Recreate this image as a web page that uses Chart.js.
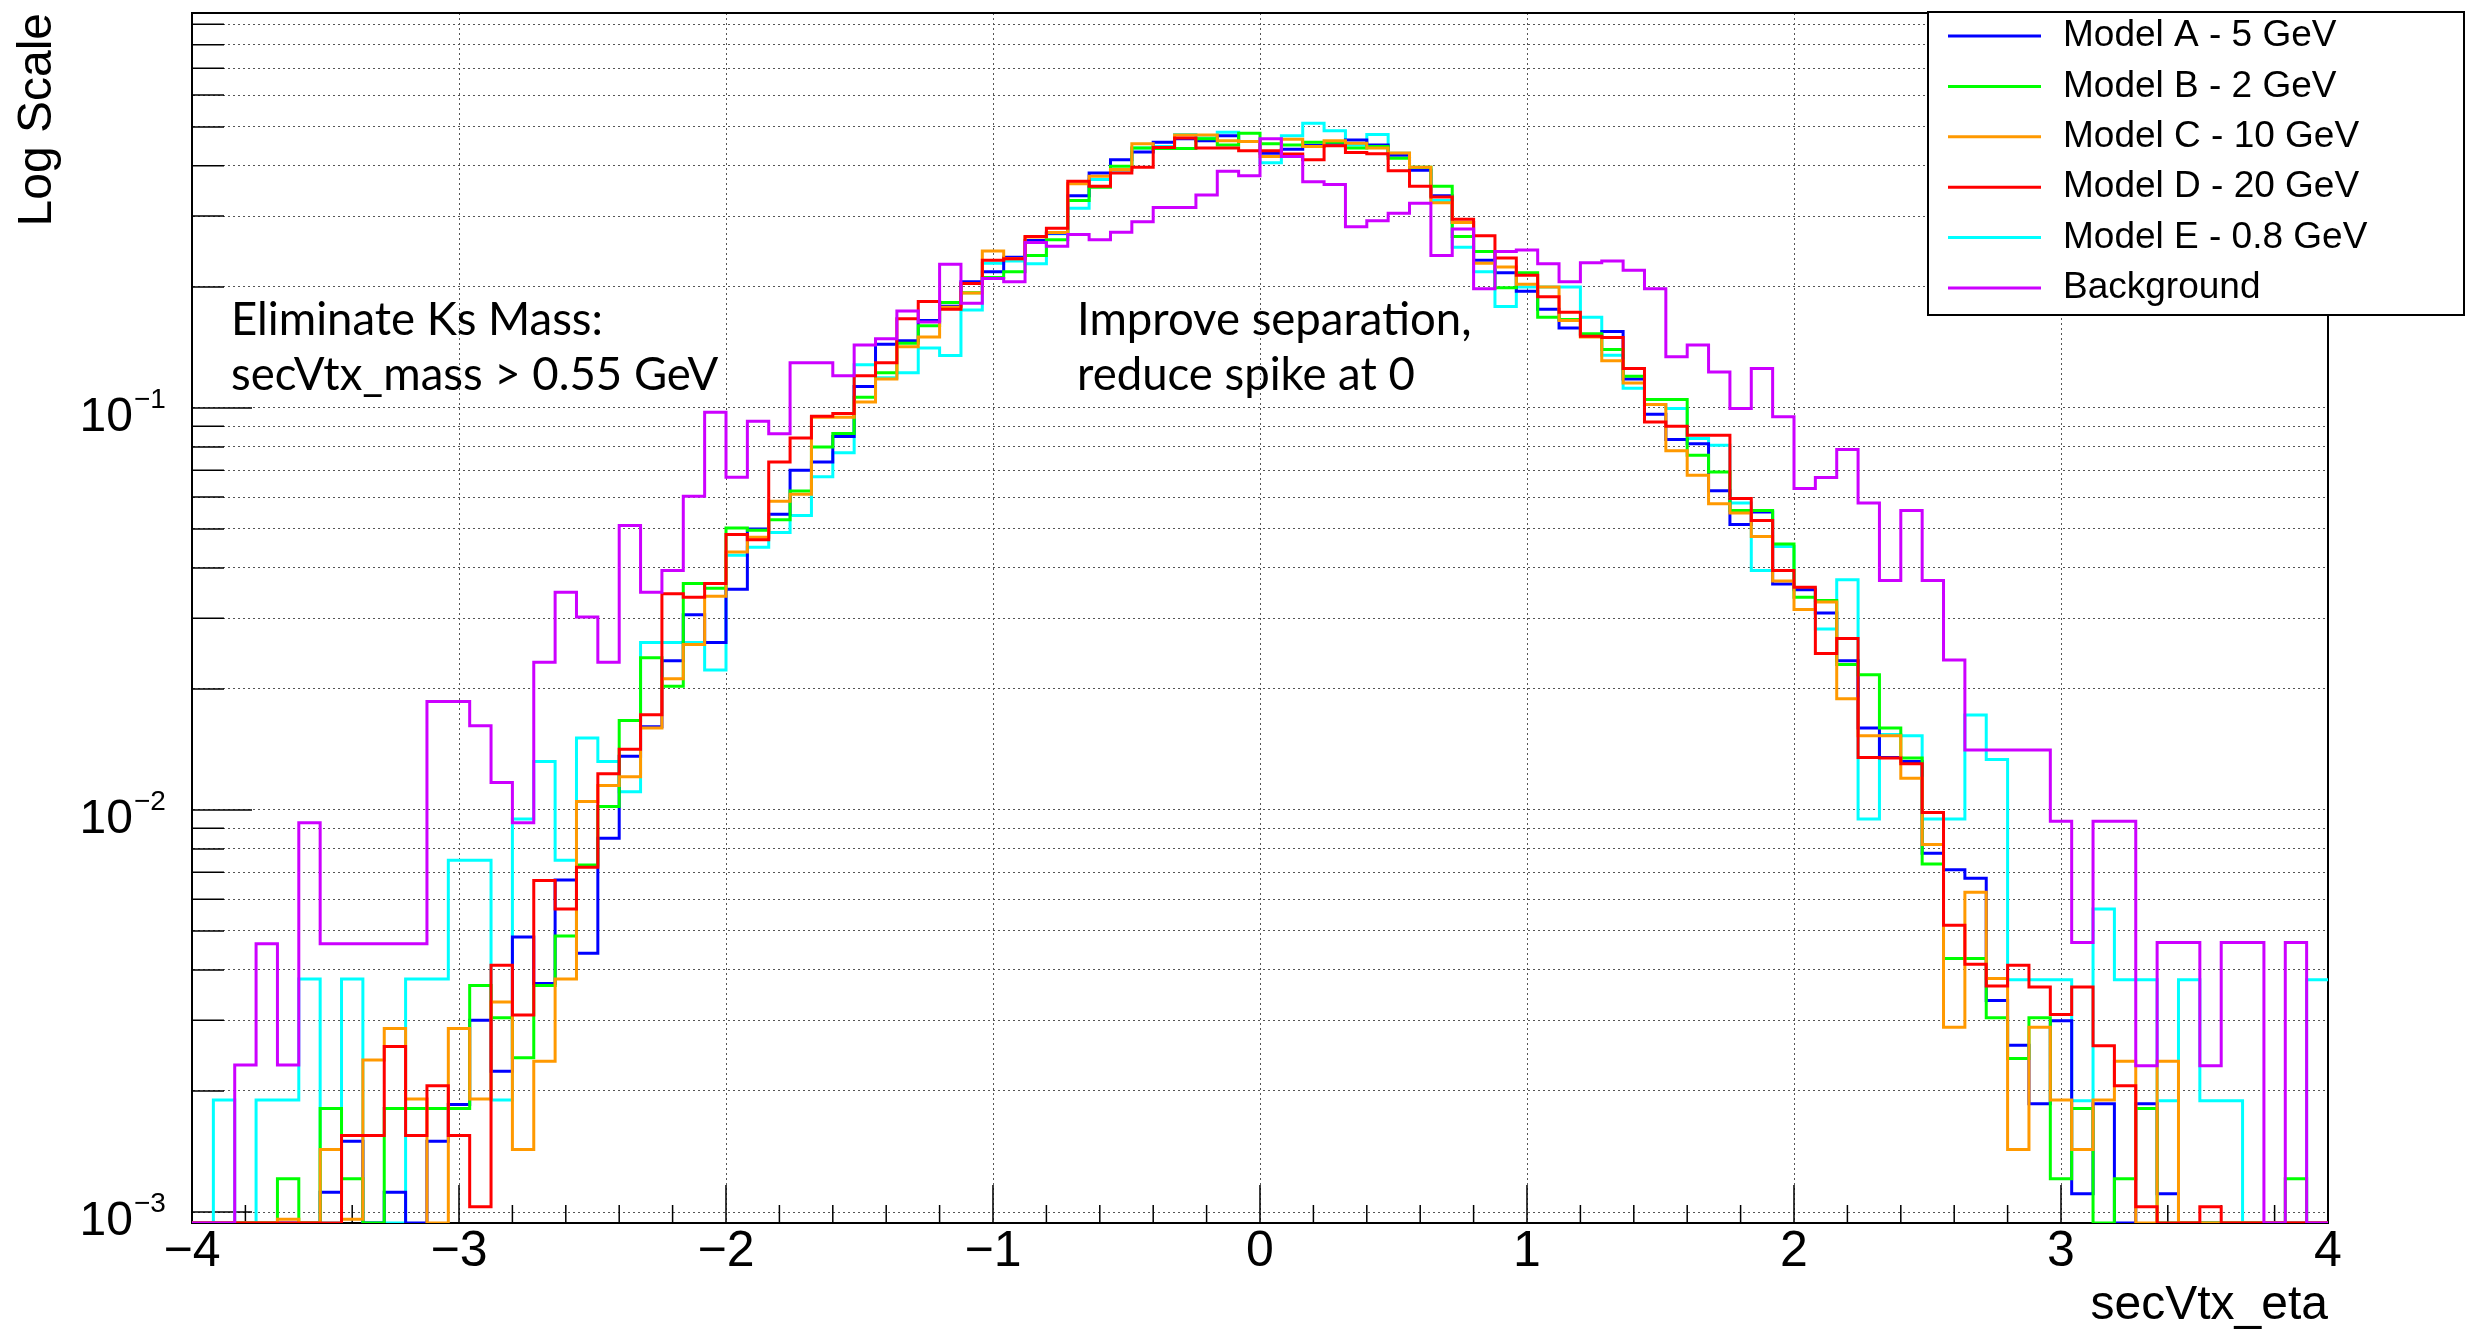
<!DOCTYPE html>
<html>
<head>
<meta charset="utf-8">
<title>secVtx_eta</title>
<script src="https://cdn.jsdelivr.net/npm/chart.js@4.4.1/dist/chart.umd.min.js"></script>
<style>
  html, body { margin: 0; padding: 0; background: #fff; }
  canvas { display: block; }
</style>
</head>
<body>
<canvas id="etaChart" width="2468" height="1331"></canvas>
<script>
/* =========================================================
   HISTOGRAM DATA  (100 bins, eta -4 .. 4)
========================================================= */

const X_MIN = -4;
const X_MAX = 4;
const N_BINS = 100;
const Y_MIN = 0.000939;
const Y_MAX = 0.96;

const seriesNames = [
  "Model A - 5 GeV",
  "Model B - 2 GeV",
  "Model C - 10 GeV",
  "Model D - 20 GeV",
  "Model E - 0.8 GeV",
  "Background"
];
const seriesColors = ["#0000ff", "#00ff00", "#ff9900", "#ff0000", "#00ffff", "#cc00ff"];
// lower = drawn on top
const seriesOrder = [4, 3, 2, 1, 5, 0];

const modelA = [
  0, 0, 0, 0, 0, 0, 0.00112, 0.0015, 0, 0.00112,
  0, 0.0015, 0.00185, 0.003, 0.00224, 0.00483, 0.0037, 0.0067, 0.0044, 0.0085,
  0.0136, 0.0161, 0.0235, 0.0306, 0.0261, 0.0354, 0.050, 0.0544, 0.070, 0.0734,
  0.0849, 0.113, 0.144, 0.147, 0.165, 0.179, 0.206, 0.218, 0.237, 0.261,
  0.272, 0.337, 0.384, 0.414, 0.433, 0.458, 0.467, 0.462, 0.475, 0.46,
  0.43, 0.44, 0.45, 0.455, 0.464, 0.451, 0.425, 0.39, 0.337, 0.289,
  0.233, 0.217, 0.195, 0.176, 0.158, 0.152, 0.155, 0.118, 0.0964, 0.0834,
  0.0815, 0.0622, 0.0513, 0.0551, 0.0365, 0.0353, 0.0309, 0.0235, 0.016, 0.0135,
  0.0132, 0.0078, 0.0071, 0.00676, 0.00336, 0.0026, 0.00186, 0.00299, 0.00111, 0.00186,
  0, 0.00186, 0.00111, 0, 0, 0, 0, 0, 0, 0
];

const modelB = [
  0, 0, 0, 0, 0.00121, 0, 0.00181, 0.00121, 0, 0.00181,
  0.00181, 0.00181, 0.00181, 0.00366, 0.00304, 0.00242, 0.00366, 0.00486, 0.0073, 0.0102,
  0.0167, 0.0239, 0.0203, 0.0366, 0.0356, 0.0503, 0.0496, 0.0527, 0.0621, 0.0799,
  0.0864, 0.1063, 0.1223, 0.1449, 0.160, 0.183, 0.1934, 0.211, 0.218, 0.2395,
  0.262, 0.328, 0.354, 0.399, 0.443, 0.442, 0.442, 0.467, 0.451, 0.482,
  0.454, 0.451, 0.458, 0.458, 0.443, 0.447, 0.418, 0.397, 0.356, 0.267,
  0.245, 0.199, 0.217, 0.168, 0.166, 0.153, 0.1397, 0.1199, 0.105, 0.105,
  0.0763, 0.0693, 0.0556, 0.0556, 0.0459, 0.0338, 0.0332, 0.023, 0.0217, 0.016,
  0.01346, 0.00734, 0.00427, 0.00427, 0.00304, 0.00241, 0.00304, 0.00121, 0.00181, 0,
  0.00121, 0.00181, 0, 0, 0, 0, 0, 0, 0.00121, 0
];

const modelC = [
  0, 0, 0, 0, 0.00096, 0, 0.00143, 0.00096, 0.00239, 0.00286,
  0.00191, 0, 0.00286, 0.00191, 0.00333, 0.00143, 0.00237, 0.0038, 0.0105, 0.0115,
  0.0121, 0.016, 0.0212, 0.0258, 0.034, 0.0438, 0.0477, 0.0586, 0.061, 0.0948,
  0.0948, 0.1035, 0.118, 0.142, 0.150, 0.178, 0.193, 0.2455, 0.235, 0.266,
  0.273, 0.361, 0.377, 0.3915, 0.454, 0.4446, 0.4775, 0.4775, 0.4617, 0.46,
  0.4222, 0.466, 0.447, 0.4617, 0.455, 0.443, 0.4305, 0.397, 0.324, 0.289,
  0.229, 0.224, 0.203, 0.2, 0.165, 0.15, 0.131, 0.1154, 0.102, 0.0782,
  0.068, 0.0578, 0.0548, 0.0479, 0.0371, 0.0315, 0.0329, 0.0189, 0.0153, 0.0153,
  0.012, 0.0082, 0.00288, 0.00624, 0.00381, 0.00143, 0.00288, 0.0019, 0.00143, 0.0019,
  0.00237, 0, 0.00237, 0, 0, 0, 0, 0, 0, 0
];

const modelD = [
  0, 0, 0, 0, 0, 0, 0, 0.00155, 0.00155, 0.00258,
  0.00155, 0.00206, 0.00155, 0.00103, 0.00411, 0.00309, 0.00668, 0.00567, 0.0072, 0.0123,
  0.01415, 0.01725, 0.0345, 0.0338, 0.0366, 0.0484, 0.047, 0.0734, 0.0842, 0.0954,
  0.0969, 0.1203, 0.1296, 0.1667, 0.184, 0.176, 0.204, 0.233, 0.235, 0.267,
  0.280, 0.366, 0.356, 0.384, 0.397, 0.4446, 0.469, 0.443, 0.443, 0.436,
  0.436, 0.428, 0.414, 0.449, 0.432, 0.4287, 0.389, 0.356, 0.3347, 0.2948,
  0.268, 0.236, 0.2138, 0.189, 0.173, 0.1507, 0.1497, 0.1253, 0.0923, 0.090,
  0.0855, 0.0855, 0.0595, 0.0525, 0.0394, 0.0358, 0.0245, 0.0267, 0.0135, 0.01346,
  0.01303, 0.00985, 0.00517, 0.00413, 0.00365, 0.00411, 0.00363, 0.0031, 0.00363, 0.00259,
  0.00206, 0.00103, 0, 0, 0.00103, 0, 0, 0, 0, 0
];

const modelE = [
  0, 0.0019, 0, 0.0019, 0.0019, 0.0038, 0, 0.0038, 0, 0,
  0.0038, 0.0038, 0.0075, 0.0075, 0.0019, 0.0095, 0.0132, 0.0075, 0.0151, 0.0132,
  0.0111, 0.0261, 0.0261, 0.0261, 0.0223, 0.043, 0.045, 0.049, 0.054, 0.0674,
  0.0774, 0.128, 0.1188, 0.1223, 0.141, 0.135, 0.1753, 0.229, 0.232, 0.2285,
  0.271, 0.314, 0.37, 0.39, 0.443, 0.447, 0.479, 0.469, 0.485, 0.46,
  0.407, 0.475, 0.5103, 0.4894, 0.451, 0.479, 0.43, 0.3955, 0.328, 0.251,
  0.218, 0.1787, 0.2, 0.2, 0.2, 0.168, 0.1352, 0.112, 0.102, 0.0996,
  0.0839, 0.0807, 0.058, 0.0394, 0.0452, 0.0355, 0.0282, 0.0374, 0.0095, 0.0154,
  0.0153, 0.0095, 0.0095, 0.01723, 0.01336, 0.00378, 0.00378, 0.00378, 0.00189, 0.00567,
  0.00378, 0.00378, 0.00189, 0.00378, 0.00189, 0.00189, 0, 0, 0, 0.00378
];

const background = [
  0, 0, 0.00232, 0.00465, 0.00232, 0.0093, 0.00465, 0.00465, 0.00465, 0.00465,
  0.00465, 0.0186, 0.0186, 0.0162, 0.0117, 0.0093, 0.0233, 0.0348, 0.0302, 0.0233,
  0.051, 0.0348, 0.0394, 0.0603, 0.0975, 0.0672, 0.0926, 0.0863, 0.1296, 0.1296,
  0.1203, 0.1433, 0.1487, 0.1743, 0.1636, 0.2276, 0.182, 0.2098, 0.206, 0.258,
  0.2525, 0.270, 0.262, 0.2733, 0.2904, 0.315, 0.315, 0.3386, 0.388, 0.378,
  0.467, 0.422, 0.365, 0.3596, 0.2823, 0.292, 0.305, 0.323, 0.2395, 0.2786,
  0.198, 0.245, 0.247, 0.2285, 0.206, 0.2297, 0.232, 0.220, 0.198, 0.134,
  0.1433, 0.1229, 0.0996, 0.1253, 0.095, 0.063, 0.0671, 0.0788, 0.058, 0.0372,
  0.0556, 0.0372, 0.0236, 0.0141, 0.0141, 0.0141, 0.0141, 0.00937, 0.00468, 0.00937,
  0.00937, 0.00231, 0.00468, 0.00468, 0.00231, 0.00468, 0.00468, 0, 0.00468, 0
];

const seriesValues = [modelA, modelB, modelC, modelD, modelE, background];

const xTickValues = [-4, -3, -2, -1, 0, 1, 2, 3, 4];
const yDecades = [-3, -2, -1];

const annotationLines = [
  ["Eliminate Ks Mass:", "secVtx_mass > 0.55 GeV"],
  ["Improve separation,", "reduce spike at 0"]
];

/* =========================================================
   HELPERS
========================================================= */

const binEdges = Array.from({ length: N_BINS + 1 }, (_, i) => X_MIN + i * (X_MAX - X_MIN) / N_BINS);

// empty bins sit on the axis, like ROOT does on a log scale
function histPoints(values) {
  const pts = values.map((v, i) => ({ x: binEdges[i], y: v > 0 ? v : Y_MIN }));
  pts.push({ x: binEdges[N_BINS], y: pts[N_BINS - 1].y });
  return pts;
}

function logGridValues() {
  const out = [];
  yDecades.forEach(e => {
    for (let m = 1; m <= 9; m++) {
      const v = m * Math.pow(10, e);
      if (v >= Y_MIN && v <= Y_MAX) out.push(v);
    }
  });
  return out;
}

const AXIS_FONT = "Liberation Sans, Arial, sans-serif";

/* =========================================================
   PLUGINS  (frame, inner ticks, y labels, legend, notes)
========================================================= */

const rootFrame = {
  id: "rootFrame",
  beforeDatasetsDraw(chart) {
    const { ctx, chartArea: a, scales: { x, y } } = chart;
    ctx.save();
    ctx.strokeStyle = "#000";
    ctx.lineWidth = 2;
    ctx.strokeRect(a.left, a.top, a.right - a.left, a.bottom - a.top);

    ctx.lineWidth = 1.5;
    ctx.beginPath();
    for (let k = 0; k <= 40; k++) {
      const px = x.getPixelForValue(X_MIN + k * 0.2);
      const len = k % 5 === 0 ? 38 : 18;
      ctx.moveTo(px, a.bottom);
      ctx.lineTo(px, a.bottom - len);
    }
    logGridValues().forEach(v => {
      const py = y.getPixelForValue(v);
      const len = Math.abs(Math.log10(v) - Math.round(Math.log10(v))) < 1e-9 ? 60 : 32;
      ctx.moveTo(a.left, py);
      ctx.lineTo(a.left + len, py);
    });
    ctx.stroke();
    ctx.restore();
  },
  afterDraw(chart) {
    const { ctx, scales: { y } } = chart;
    ctx.save();
    ctx.fillStyle = "#000";

    // y decade labels 10^n
    yDecades.forEach(e => {
      const py = y.getPixelForValue(Math.pow(10, e));
      ctx.font = `48px ${AXIS_FONT}`;
      ctx.textAlign = "right";
      ctx.textBaseline = "alphabetic";
      ctx.fillText("10", 133, py + 23);
      ctx.font = `28px ${AXIS_FONT}`;
      ctx.textAlign = "left";
      ctx.fillText("\u2212" + Math.abs(e), 134, py);
    });

    // legend box
    const lx = 1928, ly = 12, lw = 536, lh = 303;
    ctx.fillStyle = "#fff";
    ctx.fillRect(lx, ly, lw, lh);
    ctx.strokeStyle = "#000";
    ctx.lineWidth = 2;
    ctx.strokeRect(lx, ly, lw, lh);
    ctx.font = `37px ${AXIS_FONT}`;
    ctx.textAlign = "left";
    ctx.textBaseline = "middle";
    seriesNames.forEach((name, i) => {
      const ry = 36 + i * 50.4;
      ctx.strokeStyle = seriesColors[i];
      ctx.lineWidth = 3;
      ctx.beginPath();
      ctx.moveTo(1948, ry);
      ctx.lineTo(2041, ry);
      ctx.stroke();
      ctx.fillStyle = "#000";
      ctx.fillText(name, 2063, ry);
    });

    // notes
    ctx.font = "45.5px Lato, 'Open Sans', sans-serif";
    ctx.textBaseline = "alphabetic";
    const noteX = [231, 1077];
    annotationLines.forEach((lines, i) => {
      lines.forEach((t, j) => ctx.fillText(t, noteX[i], 335 + j * 55));
    });
    ctx.restore();
  }
};

/* =========================================================
   CHART
========================================================= */

const etaChart = new Chart(document.getElementById("etaChart"), {
  type: "line",
  data: {
    datasets: seriesValues.map((vals, i) => ({
      label: seriesNames[i],
      data: histPoints(vals),
      borderColor: seriesColors[i],
      borderWidth: 3,
      pointRadius: 0,
      fill: false,
      stepped: "before",
      order: seriesOrder[i]
    }))
  },
  options: {
    responsive: false,
    animation: false,
    devicePixelRatio: 1,
    layout: { padding: { left: 0, right: 140, top: 13, bottom: 0 } },
    plugins: {
      legend: { display: false },
      tooltip: { enabled: false }
    },
    scales: {
      x: {
        type: "linear",
        min: X_MIN,
        max: X_MAX,
        afterBuildTicks: scale => {
          scale.ticks = xTickValues.map(v => ({ value: v }));
        },
        afterFit: scale => { scale.height = 108; },
        grid: { color: "#555", lineWidth: 1, drawTicks: false },
        border: { display: true, color: "#000", width: 2, dash: [2, 3] },
        ticks: {
          autoSkip: false,
          maxRotation: 0,
          padding: 4,
          color: "#000",
          font: { family: AXIS_FONT, size: 50, lineHeight: 1 },
          callback: v => String(v).replace("-", "\u2212")
        },
        title: {
          display: true,
          text: "secVtx_eta",
          align: "end",
          color: "#000",
          font: { family: AXIS_FONT, size: 48, lineHeight: 1.05 },
          padding: { top: 0, bottom: 0 }
        }
      },
      y: {
        type: "logarithmic",
        min: Y_MIN,
        max: Y_MAX,
        afterBuildTicks: scale => {
          scale.ticks = logGridValues().map(v => ({ value: v }));
        },
        afterFit: scale => { scale.width = 192; },
        grid: { color: "#555", lineWidth: 1, drawTicks: false },
        border: { display: true, color: "#000", width: 2, dash: [2, 3] },
        ticks: { display: false },
        title: {
          display: true,
          text: "Log Scale",
          align: "end",
          color: "#000",
          font: { family: AXIS_FONT, size: 48 },
          padding: { top: 9, bottom: 0 }
        }
      }
    }
  },
  plugins: [rootFrame]
});
</script>
</body>
</html>
